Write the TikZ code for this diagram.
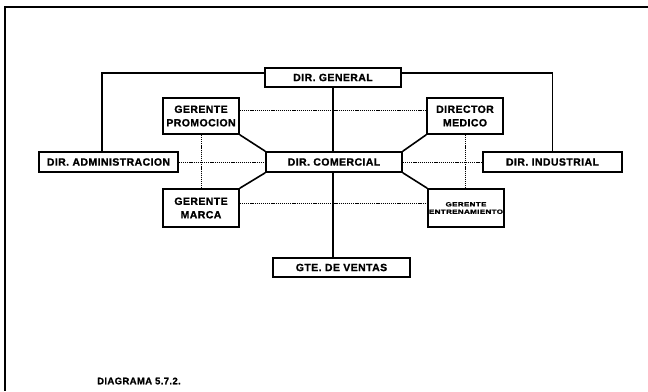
\documentclass[tikz,border=0pt]{standalone}
\usepackage{fontspec}
\setmainfont{Liberation Sans}
\newfontfamily\heavyfont{Liberation Sans Bold}[FakeBold=1.2, LetterSpace=4]
\usepackage{tikz}

\begin{document}
\begin{tikzpicture}[x=1pt, y=-1pt,
    box/.style={draw, line width=1.6pt, inner sep=0pt, align=center,
        font=\fontsize{10.5}{13.5}\heavyfont},
    conn/.style={line width=1.6pt},
    dots/.style={dash pattern=on 1.2pt off 0.9pt, line width=1pt}]
    \useasboundingbox (0, 0) rectangle (648, 391);
    \draw[line width=1.4pt] (648, 7) -- (5, 7) -- (5, 391);

    \node[box, minimum width=136pt, minimum height=19pt] (gen) at (333, 77.5) {DIR. GENERAL};
    \node[box, minimum width=139pt, minimum height=20pt] (adm) at (108.5, 162) {DIR. ADMINISTRACION};
    \node[box, minimum width=136pt, minimum height=20pt] (com) at (334, 162) {DIR. COMERCIAL};
    \node[box, minimum width=139pt, minimum height=20pt] (ind) at (552.5, 162) {DIR. INDUSTRIAL};

    \node[box, minimum width=76pt, minimum height=36pt] (pro) at (201, 116) {GERENTE\\PROMOCION};
    \node[box, minimum width=76pt, minimum height=36pt] (med) at (465, 116) {DIRECTOR\\MEDICO};
    \node[box, minimum width=76pt, minimum height=38pt] (mar) at (201, 208) {GERENTE\\MARCA};
    \node[box, minimum width=76pt, minimum height=38pt] (ent) at (466, 208)
        {\scalebox{1.3}[1]{\fontsize{6.2}{10}\heavyfont\shortstack{GERENTE\\ENTRENAMIENTO}}};

    \node[box, minimum width=137pt, minimum height=19pt] (ven) at (341.5, 267.5) {GTE. DE VENTAS};

    \node[anchor=west, inner sep=0pt, font=\fontsize{9.5}{11}\heavyfont] (cap) at (97, 381) {DIAGRAMA 5.7.2.};

    % solid lines
    \draw[conn] ([yshift=4.5pt]gen.west) -| ([xshift=-6.5pt]adm.north);
    \draw[conn] ([yshift=4.5pt]gen.east) -| (ind.north);
    \draw[conn] (gen.south) -- (gen.south |- com.north);
    \draw[conn] (com.south -| gen.south) -- (gen.south |- ven.north);
    \draw[conn] (pro.south east) -- (com.north west);
    \draw[conn] (mar.north east) -- (com.south west);
    \draw[conn] (med.south west) -- (com.north east);
    \draw[conn] (ent.north west) -- (com.south east);

    % dotted lines
    \draw[dots] ([yshift=6pt]pro.east) -- ([yshift=6pt]med.west);
    \draw[dots] ([yshift=5pt]mar.east) -- ([yshift=5pt]ent.west);
    \draw[dots] (adm.east) -- (com.west);
    \draw[dots] (com.east) -- (ind.west);
    \draw[dots] (pro.south) -- (mar.north);
    \draw[dots] (med.south) -- (med.south |- ent.north);
\end{tikzpicture}
\end{document}
